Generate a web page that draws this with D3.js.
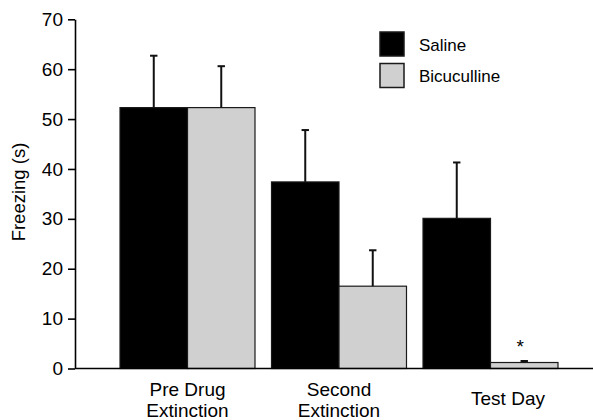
<!DOCTYPE html>
<html>
<head>
<meta charset="utf-8">
<script src="https://cdn.jsdelivr.net/npm/d3@7"></script>
<style>
  html, body { margin: 0; padding: 0; background: #fff; }
  svg { display: block; font-family: "Liberation Sans", Arial, Helvetica, sans-serif; }
</style>
</head>
<body>
<svg id="chart" width="593" height="420"></svg>
<script>
// Freezing time per session, mean and SEM for each treatment group
const sessions = [["Pre Drug", "Extinction"], ["Second", "Extinction"], ["Test Day"]];
const seriesNames = ["Saline", "Bicuculline"];
const salineMeans = [52.3, 37.4, 30.1];
const salineSem = [10.4, 10.4, 11.2];
const bicucullineMeans = [52.3, 16.5, 1.2];
const bicucullineSem = [8.3, 7.2, 0.3];
const significant = [false, false, true]; // marked for Bicuculline vs Saline
const yTicks = [0, 10, 20, 30, 40, 50, 60, 70];
const yLabel = "Freezing (s)";

const colors = { "Saline": "#000000", "Bicuculline": "#d0d0d0" };

const svg = d3.select("#chart");
const axisX = 75, baseY = 368.5, topY = 19.3;

const keys = sessions.map(s => s.join(" "));
const rows = keys.map((k, i) => ({
  key: k,
  values: [
    { name: "Saline", mean: salineMeans[i], sem: salineSem[i] },
    { name: "Bicuculline", mean: bicucullineMeans[i], sem: bicucullineSem[i], sig: significant[i] }
  ]
}));

const y = d3.scaleLinear().domain([0, 70]).range([baseY, topY]);
const x0 = d3.scaleBand().domain(keys).range([103.5, 574.5]).padding(0.109);
const x1 = d3.scaleBand().domain(seriesNames).range([0, x0.bandwidth()]);

// bars
const groups = svg.append("g").selectAll("g").data(rows).join("g")
  .attr("transform", d => `translate(${x0(d.key)},0)`);

groups.selectAll("rect").data(d => d.values).join("rect")
  .attr("x", d => x1(d.name))
  .attr("y", d => y(d.mean))
  .attr("width", x1.bandwidth())
  .attr("height", d => y(0) - y(d.mean))
  .attr("fill", d => colors[d.name])
  .attr("stroke", "#1a1a1a")
  .attr("stroke-width", 1.2);

// upward error bars
const err = groups.selectAll("g.err").data(d => d.values).join("g").attr("class", "err")
  .attr("stroke", "#111").attr("stroke-width", 2);
err.append("line")
  .attr("x1", d => x1(d.name) + x1.bandwidth() / 2)
  .attr("x2", d => x1(d.name) + x1.bandwidth() / 2)
  .attr("y1", d => y(d.mean))
  .attr("y2", d => y(d.mean + d.sem));
err.append("line")
  .attr("x1", d => x1(d.name) + x1.bandwidth() / 2 - 3.7)
  .attr("x2", d => x1(d.name) + x1.bandwidth() / 2 + 3.7)
  .attr("y1", d => y(d.mean + d.sem))
  .attr("y2", d => y(d.mean + d.sem));

// significance marker
groups.selectAll("text.sig").data(d => d.values.filter(v => v.sig)).join("text")
  .attr("class", "sig")
  .attr("x", d => x1(d.name) + x1.bandwidth() / 2 - 4)
  .attr("y", d => y(d.mean + d.sem) - 8)
  .attr("text-anchor", "middle")
  .attr("font-size", 19)
  .text("*");

// y axis
const yAxis = svg.append("g")
  .attr("transform", `translate(${axisX},0)`)
  .call(d3.axisLeft(y).tickValues(yTicks).tickSize(7).tickPadding(5).tickSizeOuter(0));
yAxis.select(".domain").attr("stroke", "#000").attr("stroke-width", 1.6);
yAxis.selectAll(".tick line").attr("stroke", "#000").attr("stroke-width", 1.6);
yAxis.selectAll(".tick text").attr("font-size", 19).attr("fill", "#000")
  .attr("font-family", "Liberation Sans, Arial, sans-serif");

// x axis baseline
svg.append("line")
  .attr("x1", axisX).attr("x2", 593)
  .attr("y1", y(0)).attr("y2", y(0))
  .attr("stroke", "#000").attr("stroke-width", 1.6);

// category labels (single-line label sits lower and a little to the right)
const labelShift = lines => lines.length > 1 ? 0 : 17.5;
const catLabels = svg.append("g").attr("font-size", 19).attr("text-anchor", "middle");
catLabels.selectAll("text").data(sessions.map((s, i) => ({ lines: s, key: keys[i] }))).join("text")
  .attr("y", d => d.lines.length > 1 ? 395.5 : 405)
  .each(function (d) {
    const cx = x0(d.key) + x0.bandwidth() / 2 + labelShift(d.lines);
    d3.select(this).selectAll("tspan").data(d.lines).join("tspan")
      .attr("x", cx)
      .attr("dy", (_, i) => i === 0 ? 0 : 21)
      .text(t => t);
  });

// y axis title
svg.append("text")
  .attr("transform", "translate(25,192) rotate(-90)")
  .attr("text-anchor", "middle")
  .attr("font-size", 18.5)
  .text(yLabel);

// legend
const legend = svg.append("g").selectAll("g").data(seriesNames).join("g")
  .attr("transform", (d, i) => `translate(380,${32 + i * 31.5})`);
legend.append("rect")
  .attr("width", 24).attr("height", 24)
  .attr("fill", d => colors[d])
  .attr("stroke", "#1a1a1a").attr("stroke-width", 1.5);
legend.append("text")
  .attr("x", 39).attr("y", 18.5)
  .attr("font-size", 17)
  .text(d => d);
</script>
</body>
</html>
